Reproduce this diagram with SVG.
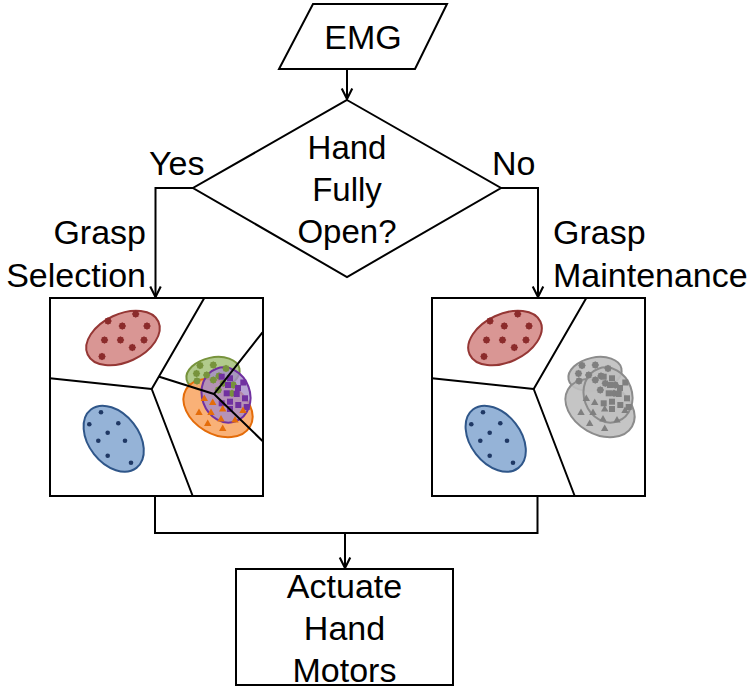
<svg xmlns="http://www.w3.org/2000/svg" xmlns:xlink="http://www.w3.org/1999/xlink" width="756" height="690" viewBox="0 0 756 690">
<style>
  .shape { fill: #ffffff; stroke: #000000; stroke-width: 2; }
  .conn { fill: none; stroke: #000000; stroke-width: 2; }
  .vor { fill: none; stroke: #000000; stroke-width: 2; }
  .lbl { font-family: "Liberation Sans", Arial, sans-serif; font-size: 34px; fill: #000000; }
  .c { text-anchor: middle; }
  .red { fill: #d99694; stroke: #953735; stroke-width: 2; }
  .blue { fill: #95b3d7; stroke: #2f5689; stroke-width: 2; }
  .green { fill: #a9c47f; stroke: #77933c; stroke-width: 2; fill-opacity: 0.9; }
  .orange { fill: #f8a868; stroke: #e46c0a; stroke-width: 2; fill-opacity: 0.9; }
  .purple { fill: #a58cc8; stroke: #7030a0; stroke-width: 2; fill-opacity: 0.8; }
  .gray { fill: #bfbfbf; stroke: #8c8c8c; stroke-width: 2; fill-opacity: 0.9; }
</style>
<defs>
  <marker id="arrow" markerUnits="userSpaceOnUse" markerWidth="14" markerHeight="14" viewBox="-10 -6 12 12" refX="0" refY="0" orient="auto">
    <path d="M-9,-4.5 L0,0 L-9,4.5" fill="none" stroke="#000000" stroke-width="1.8"/>
  </marker>
  <polygon id="star" points="3.8,0 2.9,1.2 2.7,2.7 1.2,2.9 0,3.8 -1.2,2.9 -2.7,2.7 -2.9,1.2 -3.8,0 -2.9,-1.2 -2.7,-2.7 -1.2,-2.9 0,-3.8 1.2,-2.9 2.7,-2.7 2.9,-1.2"/>
  <rect id="sq" x="-3" y="-3" width="6" height="6"/>
  <polygon id="tri" points="0,-3.9 3.7,2.6 -3.7,2.6"/>
  <circle id="dot" r="2.3"/>
  <g id="redCluster">
    <ellipse class="red" cx="123" cy="338" rx="39" ry="24" transform="rotate(-25 123 338)"/>
    <g fill="#8b2b2b">
      <use href="#star" x="135.7" y="314"/>
      <use href="#star" x="108" y="321"/>
      <use href="#star" x="122.3" y="326"/>
      <use href="#star" x="147" y="326"/>
      <use href="#star" x="104.5" y="340"/>
      <use href="#star" x="120.5" y="340"/>
      <use href="#star" x="144" y="340"/>
      <use href="#star" x="132.3" y="347.5"/>
      <use href="#star" x="102" y="356.5"/>
    </g>
  </g>
  <g id="blueCluster">
    <ellipse class="blue" cx="113.7" cy="438.7" rx="37" ry="25" transform="rotate(52 113.7 438.7)"/>
    <g fill="#1f3864">
      <use href="#dot" x="101" y="412.3"/>
      <use href="#dot" x="89.3" y="424.3"/>
      <use href="#dot" x="118.3" y="423.3"/>
      <use href="#dot" x="107.7" y="432.7"/>
      <use href="#dot" x="98.3" y="440.7"/>
      <use href="#dot" x="125" y="440.7"/>
      <use href="#dot" x="107.7" y="455.7"/>
      <use href="#dot" x="131" y="462.7"/>
    </g>
  </g>
</defs>

<rect width="756" height="690" fill="#ffffff"/>

<g id="connectors">
  <line class="conn" x1="347" y1="69" x2="347" y2="99" marker-end="url(#arrow)"/>
  <polyline class="conn" points="193,188 155.5,188 155.5,297" marker-end="url(#arrow)"/>
  <polyline class="conn" points="501,188 538,188 538,297" marker-end="url(#arrow)"/>
  <polyline class="conn" points="155,497 155,533 537.5,533 537.5,497"/>
  <line class="conn" x1="345" y1="533" x2="345" y2="568" marker-end="url(#arrow)"/>
</g>

<g id="emg">
  <polygon class="shape" points="313,4 447,4 415,69 279,69"/>
  <text class="lbl c" x="363" y="49">EMG</text>
</g>

<g id="decision">
  <polygon class="shape" points="347,100 501,188 347,277 193,188"/>
  <text class="lbl c" x="347" y="159" style="font-size:33px">Hand</text>
  <text class="lbl c" x="347" y="201" style="font-size:33px">Fully</text>
  <text class="lbl c" x="347" y="243" style="font-size:33px">Open?</text>
</g>

<g id="label-yes">
  <text class="lbl" x="149" y="175">Yes</text>
</g>
<g id="label-no">
  <text class="lbl" x="492" y="175">No</text>
</g>
<g id="label-selection">
  <text class="lbl" x="146" y="244" text-anchor="end">Grasp</text>
  <text class="lbl" x="146" y="287" text-anchor="end">Selection</text>
</g>
<g id="label-maintenance">
  <text class="lbl" x="553" y="244">Grasp</text>
  <text class="lbl" x="553" y="287">Maintenance</text>
</g>

<g id="grasp-selection">
  <rect class="shape" x="50" y="298" width="213" height="198"/>
  <use href="#redCluster"/>
  <use href="#blueCluster"/>
  <ellipse class="green" cx="213" cy="374" rx="27" ry="16.5" transform="rotate(-12 213 374)"/>
  <ellipse class="orange" cx="218" cy="408" rx="37" ry="26" transform="rotate(30 218 408)"/>
  <ellipse class="purple" cx="226" cy="395" rx="28" ry="24" transform="rotate(70 226 395)"/>
  <g fill="#77933c">
    <use href="#star" x="200" y="365.5"/>
    <use href="#star" x="213.3" y="365"/>
    <use href="#star" x="226" y="368.5"/>
    <use href="#star" x="196.5" y="373.5"/>
    <use href="#star" x="206.7" y="375"/>
    <use href="#star" x="219" y="376"/>
    <use href="#star" x="197" y="381"/>
    <use href="#star" x="213.3" y="380"/>
    <use href="#star" x="223.3" y="383.3"/>
    <use href="#star" x="233.3" y="385"/>
    <use href="#star" x="218.3" y="390"/>
    <use href="#star" x="232" y="393.3"/>
  </g>
  <g fill="#7030a0">
    <use href="#sq" x="221.7" y="376.7"/>
    <use href="#sq" x="230" y="378.3"/>
    <use href="#sq" x="228" y="385"/>
    <use href="#sq" x="238" y="388"/>
    <use href="#sq" x="243.3" y="382.5"/>
    <use href="#sq" x="226.7" y="393.3"/>
    <use href="#sq" x="236.7" y="394"/>
    <use href="#sq" x="245" y="398.3"/>
    <use href="#sq" x="230" y="401.7"/>
    <use href="#sq" x="221.7" y="403.3"/>
    <use href="#sq" x="238.3" y="405"/>
    <use href="#sq" x="246.7" y="407"/>
    <use href="#sq" x="230" y="409"/>
  </g>
  <g fill="#e46c0a">
    <use href="#tri" x="204.3" y="398.3"/>
    <use href="#tri" x="212.7" y="402.3"/>
    <use href="#tri" x="199" y="412.3"/>
    <use href="#tri" x="211" y="412.3"/>
    <use href="#tri" x="222.7" y="409"/>
    <use href="#tri" x="207.7" y="423.3"/>
    <use href="#tri" x="221" y="419"/>
    <use href="#tri" x="235" y="420"/>
    <use href="#tri" x="222.7" y="428.3"/>
    <use href="#tri" x="243" y="410.5"/>
  </g>
  <path class="vor" d="M50,378.3 L151.7,389 M151.7,389 L204.3,298 M151.7,389 L192.7,496 M159.3,376.7 L214,394 L262.5,332.3 M214,394 L262.5,441"/>
</g>

<g id="grasp-maintenance">
  <rect class="shape" x="432" y="298" width="213" height="198"/>
  <use href="#redCluster" x="382"/>
  <use href="#blueCluster" x="382"/>
  <ellipse class="gray" cx="595" cy="374" rx="27" ry="16.5" transform="rotate(-12 595 374)"/>
  <ellipse class="gray" cx="600" cy="408" rx="37" ry="26" transform="rotate(30 600 408)"/>
  <ellipse class="gray" cx="608" cy="395" rx="28" ry="24" transform="rotate(70 608 395)"/>
  <g fill="#7f7f7f">
    <use href="#star" x="582" y="365.5"/>
    <use href="#star" x="595.3" y="365"/>
    <use href="#star" x="608" y="368.5"/>
    <use href="#star" x="578.5" y="373.5"/>
    <use href="#star" x="588.7" y="375"/>
    <use href="#star" x="601" y="376"/>
    <use href="#star" x="579" y="381"/>
    <use href="#star" x="595.3" y="380"/>
    <use href="#star" x="605.3" y="383.3"/>
    <use href="#star" x="615.3" y="385"/>
    <use href="#star" x="600.3" y="390"/>
    <use href="#star" x="614" y="393.3"/>
    <use href="#sq" x="603.7" y="376.7"/>
    <use href="#sq" x="612" y="378.3"/>
    <use href="#sq" x="610" y="385"/>
    <use href="#sq" x="620" y="388"/>
    <use href="#sq" x="625.3" y="382.5"/>
    <use href="#sq" x="608.7" y="393.3"/>
    <use href="#sq" x="618.7" y="394"/>
    <use href="#sq" x="627" y="398.3"/>
    <use href="#sq" x="612" y="401.7"/>
    <use href="#sq" x="603.7" y="403.3"/>
    <use href="#sq" x="620.3" y="405"/>
    <use href="#sq" x="628.7" y="407"/>
    <use href="#sq" x="612" y="409"/>
    <use href="#tri" x="586.3" y="398.3"/>
    <use href="#tri" x="594.7" y="402.3"/>
    <use href="#tri" x="581" y="412.3"/>
    <use href="#tri" x="593" y="412.3"/>
    <use href="#tri" x="604.7" y="409"/>
    <use href="#tri" x="589.7" y="423.3"/>
    <use href="#tri" x="603" y="419"/>
    <use href="#tri" x="617" y="420"/>
    <use href="#tri" x="604.7" y="428.3"/>
    <use href="#tri" x="625" y="410.5"/>
  </g>
  <path class="vor" d="M432,378.3 L533.7,389 M533.7,389 L586.3,298 M533.7,389 L574.7,496"/>
</g>

<g id="actuate">
  <rect class="shape" x="236" y="569" width="217" height="116"/>
  <text class="lbl c" x="344.5" y="598">Actuate</text>
  <text class="lbl c" x="344.5" y="640">Hand</text>
  <text class="lbl c" x="344.5" y="682">Motors</text>
</g>
</svg>
